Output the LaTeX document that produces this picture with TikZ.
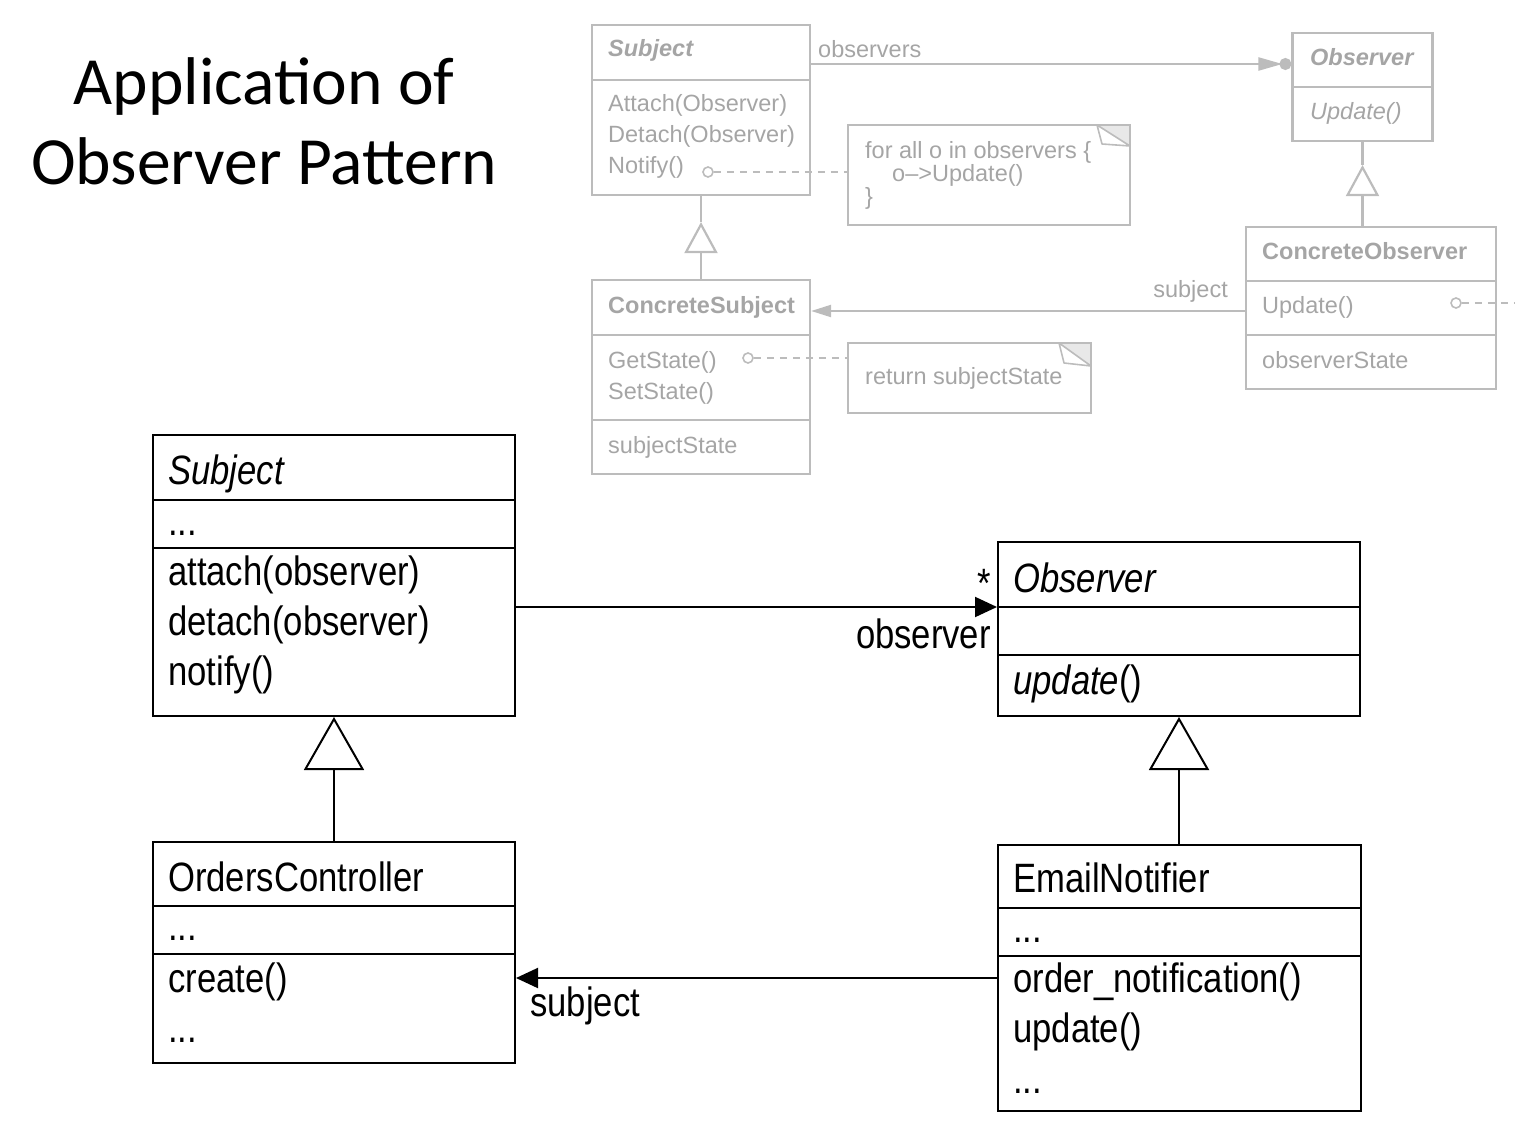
\documentclass[tikz,border=0pt]{standalone}
\usepackage{fontspec}
\setmainfont{Liberation Sans}
\newfontfamily\umlfont[FakeStretch=0.845]{Liberation Sans}
\newfontfamily\titlefont{Carlito}
\usetikzlibrary{arrows.meta}
\definecolor{gline}{RGB}{188,188,188}
\definecolor{gtext}{RGB}{165,165,165}
\definecolor{gcorner}{RGB}{232,232,232}
\begin{document}
\begin{tikzpicture}[x=1pt,y=-1pt,
  uline/.style={draw=black, line width=2pt},
  ubox/.style={draw=black, line width=2pt, inner sep=0pt},
  utxt/.style={anchor=base west, inner sep=0pt, font=\umlfont\fontsize{41}{49}\selectfont},
  gbox/.style={draw=gline, line width=2.2pt, inner sep=0pt},
  gln/.style={draw=gline, line width=2.2pt},
  gtxt/.style={anchor=base west, inner sep=0pt, text=gtext, font=\fontsize{23.5}{28}\selectfont},
  gdash/.style={draw=gline, line width=1.8pt, dash pattern=on 7pt off 6pt},
  gcirc/.style={draw=gline, line width=1.6pt, circle, inner sep=0pt, minimum size=10pt},
  ttl/.style={anchor=base, inner sep=0pt, font=\titlefont\fontsize{67.5}{80}\selectfont},
  gentip/.style={-{Triangle[open, length=53pt, width=60pt]}},
  assoctip/.style={-{Triangle[length=22pt, width=20pt]}},
  ggentip/.style={-{Triangle[open, length=31pt, width=33pt]}},
  notebox/.style={inner sep=0pt}
]
\useasboundingbox (0,0) rectangle (1515,1134);

% ---------------- Title ----------------
\node[ttl] (title1) at (264,105) {Application of};
\node[ttl] (title2) at (264,185) {Observer Pattern};

% ---------------- Gray GoF diagram ----------------
% Subject
\node[gbox, minimum width=218pt, minimum height=170pt] (gsubj) at (701,110) {};
\draw[gln] (gsubj.west |- 0,80) -- (gsubj.east |- 0,80);
\node[gtxt, font=\fontsize{23.5}{28}\selectfont\bfseries\itshape] (gsubjn) at (608,57) {Subject};
\node[gtxt] (gs1) at (608,112) {Attach(Observer)};
\node[gtxt] (gs2) at (608,143) {Detach(Observer)};
\node[gtxt] (gs3) at (608,174) {Notify()};
\node[gcirc] (gc1) at (708,172) {};

% Note 1
\node[notebox, minimum width=282pt, minimum height=100pt] (note1) at (989,175) {};
\fill[gcorner] (1097,125) -- (1130,125) -- (1130,146) -- cycle;
\draw[gln] (note1.north west) rectangle (note1.south east);
\draw[draw=gline, line width=1.6pt, line join=round] (1097,125) -- (1130,146) -- (1102,144) -- cycle;
\node[gtxt] (n1a) at (865,159) {for all o in observers \{};
\node[gtxt] (n1b) at (892,182) {o\textendash>Update()};
\node[gtxt] (n1c) at (865,205) {\}};
\draw[gdash] (gc1.east) -- (note1.west |- gc1.east);

% ConcreteSubject
\node[gbox, minimum width=218pt, minimum height=194pt] (gcs) at (701,377) {};
\draw[gln] (gcs.west |- 0,335) -- (gcs.east |- 0,335);
\draw[gln] (gcs.west |- 0,420) -- (gcs.east |- 0,420);
\node[gtxt, font=\fontsize{23.5}{28}\selectfont\bfseries] (gcsn) at (608,313) {ConcreteSubject};
\node[gtxt] (gcs1) at (608,368) {GetState()};
\node[gtxt] (gcs2) at (608,399) {SetState()};
\node[gtxt] (gcs3) at (608,453) {subjectState};
\node[gcirc] (gc2) at (748,358) {};

% Note 2
\node[notebox, minimum width=243pt, minimum height=70pt] (note2) at (969.5,378) {};
\fill[gcorner] (1059,343) -- (1091,343) -- (1091,366) -- cycle;
\draw[gln] (note2.north west) rectangle (note2.south east);
\draw[draw=gline, line width=1.6pt, line join=round] (1059,343) -- (1091,366) -- (1064,363) -- cycle;
\node[gtxt] (n2a) at (865,384) {return subjectState};
\draw[gdash] (gc2.east) -- (note2.west |- gc2.east);

% Gray generalization Subject <- ConcreteSubject
\draw[gln] (gsubj.south) -- ++(0,26) coordinate (gap1);
\draw[gln, ggentip] (gcs.north) -- (gap1);

% Observer
\node[gbox, minimum width=140pt, minimum height=108pt] (gobs) at (1362.5,87) {};
\draw[gln] (gobs.west |- 0,87) -- (gobs.east |- 0,87);
\node[gtxt, font=\fontsize{23.5}{28}\selectfont\bfseries\itshape] (gobsn) at (1310,66) {Observer};
\node[gtxt, font=\fontsize{23.5}{28}\selectfont\itshape] (gobs1) at (1310,120) {Update()};

% observers association
\draw[gln, -{Triangle[length=24pt, width=13pt, sep=-3pt] Circle[length=12pt]}] (gsubj.east |- 0,64) -- (gobs.west |- 0,64);
\node[gtxt] (gobsl) at (818,58) {observers};

% ConcreteObserver
\node[gbox, minimum width=250pt, minimum height=162pt] (gco) at (1371,308) {};
\draw[gln] (gco.west |- 0,281) -- (gco.east |- 0,281);
\draw[gln] (gco.west |- 0,335) -- (gco.east |- 0,335);
\node[gtxt, font=\fontsize{23.5}{28}\selectfont\bfseries] (gcon) at (1262,259) {ConcreteObserver};
\node[gtxt] (gco1) at (1262,313) {Update()};
\node[gtxt] (gco2) at (1262,368) {observerState};
\node[gcirc] (gc3) at (1456,303) {};
\coordinate (gedge) at (1515,303);
\draw[gdash] (gc3.east) -- (gedge);

% Gray generalization Observer <- ConcreteObserver
\draw[gln] (gobs.south) -- ++(0,23) coordinate (gap2);
\draw[gln, ggentip] (gco.north -| gap2) -- (gap2);

% subject association (gray)
\draw[gln, -{Triangle[length=20pt, width=12pt]}] (gco.west |- 0,311) -- (gcs.east |- 0,311);
\node[gtxt, anchor=base east] (gsubjl) at (1228,297) {subject};

% ---------------- Lower diagram ----------------
% Subject
\node[ubox, minimum width=362pt, minimum height=281pt] (subj) at (334,575.5) {};
\draw[uline] (subj.west |- 0,500) -- (subj.east |- 0,500);
\draw[uline] (subj.west |- 0,548) -- (subj.east |- 0,548);
\node[utxt, font=\umlfont\fontsize{41}{49}\selectfont\itshape] (subjn) at (168,484) {Subject};
\node[utxt] (subja) at (168,535) {...};
\node[utxt] (subj1) at (168,585) {attach(observer)};
\node[utxt] (subj2) at (168,635) {detach(observer)};
\node[utxt] (subj3) at (168,685) {notify()};

% Observer
\node[ubox, minimum width=362pt, minimum height=174pt] (obs) at (1179,629) {};
\draw[uline] (obs.west |- 0,607) -- (obs.east |- 0,607);
\draw[uline] (obs.west |- 0,655) -- (obs.east |- 0,655);
\node[utxt, font=\umlfont\fontsize{41}{49}\selectfont\itshape] (obsn) at (1013,592) {Observer};
\node[utxt] (obs1) at (1013,694) {{\itshape update}()};

% association Subject -> Observer
\draw[uline, assoctip] (subj.east |- 0,607) -- (obs.west |- 0,607);
\node[utxt] (star) at (977,597) {*};
\node[utxt, anchor=base east] (obsl) at (991,648) {observer};

% OrdersController
\node[ubox, minimum width=362pt, minimum height=221pt] (oc) at (334,952.5) {};
\draw[uline] (oc.west |- 0,906) -- (oc.east |- 0,906);
\draw[uline] (oc.west |- 0,954) -- (oc.east |- 0,954);
\node[utxt] (ocn) at (168,891) {OrdersController};
\node[utxt] (oca) at (168,940) {...};
\node[utxt] (oc1) at (168,992) {create()};
\node[utxt] (ocb) at (168,1042) {...};

% EmailNotifier
\node[ubox, minimum width=363pt, minimum height=266pt] (en) at (1179.5,978) {};
\draw[uline] (en.west |- 0,908) -- (en.east |- 0,908);
\draw[uline] (en.west |- 0,956) -- (en.east |- 0,956);
\node[utxt] (enn) at (1013,892) {EmailNotifier};
\node[utxt] (ena) at (1013,942) {...};
\node[utxt] (en1) at (1013,992) {order\_notification()};
\node[utxt] (en2) at (1013,1042) {update()};
\node[utxt] (enb) at (1013,1093) {...};

% generalizations
\draw[uline, gentip] (oc.north) -- (subj.south);
\draw[uline, gentip] (en.north -| obs.south) -- (obs.south);

% association EmailNotifier -> OrdersController
\draw[uline, assoctip] (en.west |- 0,978) -- (oc.east |- 0,978);
\node[utxt] (subjl) at (530,1016) {subject};
\end{tikzpicture}
\end{document}
